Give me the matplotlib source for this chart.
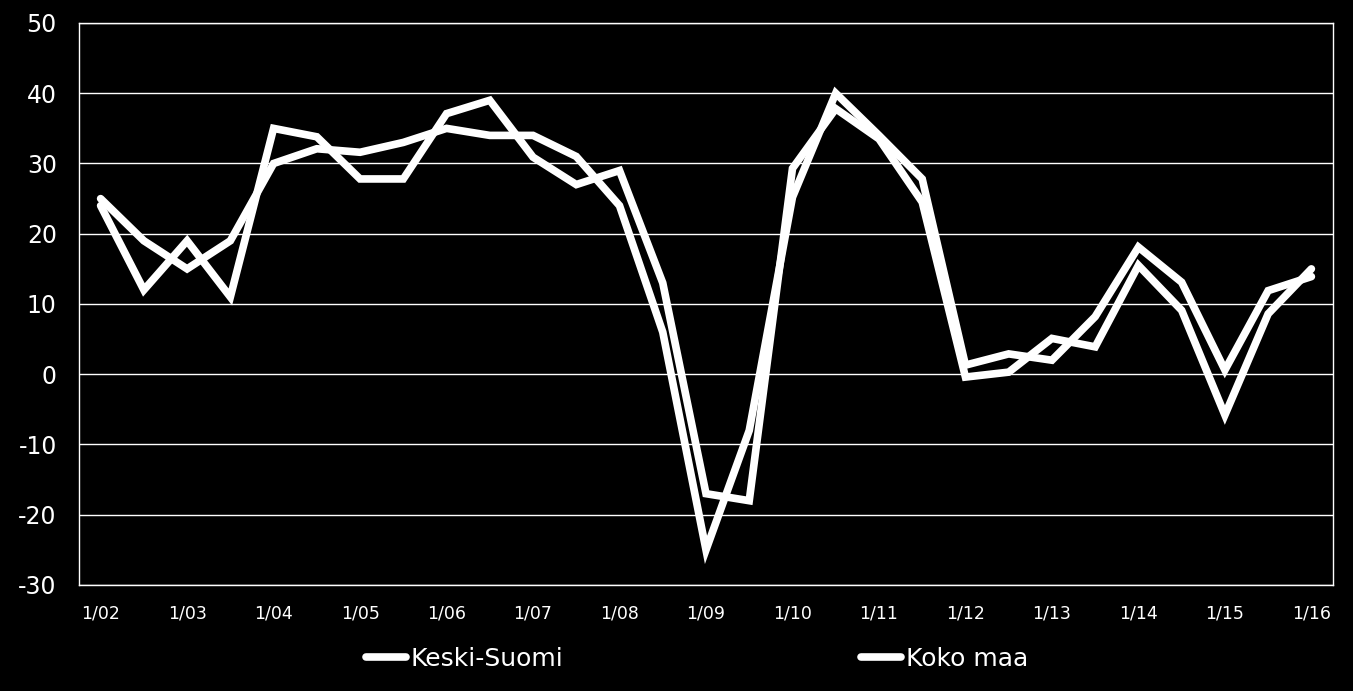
import matplotlib
matplotlib.use("Agg")
import matplotlib.pyplot as plt
from matplotlib import font_manager

# puolivuosittaiset havainnot 1/02 ... 1/16
periods = [f"{m}/{y:02d}" for y in range(2, 17) for m in (1, 7)][:29]
year_labels = [f"1/{y:02d}" for y in range(2, 17)]

keski_suomi = [24, 12, 19, 11, 35, 33.8, 27.8, 27.8, 37.1, 39, 30.9, 27, 29, 13,
               -17, -18, 29.3, 37.8, 33.5, 24.5, -0.4, 0.3, 5.1, 3.9, 15.5, 9.1,
               -5.8, 8.6, 15.0]
koko_maa = [25, 19, 15, 19, 30, 32.1, 31.6, 33, 35, 34, 34, 31, 24, 6,
            -25, -8, 25.2, 40, 34, 27.8, 1.3, 2.9, 2.0, 8.2, 18.1, 13.1,
            0.6, 11.9, 13.9]

names = {f.name for f in font_manager.fontManager.ttflist}
legend_font = "Liberation Sans Narrow" if "Liberation Sans Narrow" in names else "DejaVu Sans"
legend_size = 22 if legend_font != "DejaVu Sans" else 18

fig = plt.figure(figsize=(13.53, 6.91), dpi=100, facecolor="black")
ax = fig.add_axes([79 / 1353, 1 - 585 / 691, (1333 - 79) / 1353, (585 - 23) / 691])
ax.set_facecolor("black")

x = list(range(len(periods)))
ax.plot(x, keski_suomi, color="white", lw=5.5, solid_capstyle="round",
        solid_joinstyle="miter", label="Keski-Suomi", zorder=3)
ax.plot(x, koko_maa, color="white", lw=5.5, solid_capstyle="round",
        solid_joinstyle="miter", label="Koko maa", zorder=3)

ax.set_xlim(-0.5, len(periods) - 0.5)
ax.set_ylim(-30, 50)
ax.set_yticks(range(-30, 51, 10))
ax.set_yticklabels([str(v) for v in range(-30, 51, 10)], fontsize=17, color="white")
ax.set_xticks(x[::2])
ax.set_xticklabels(year_labels, fontsize=12.5, color="white")
ax.tick_params(axis="both", length=0)
ax.tick_params(axis="y", pad=16)
ax.tick_params(axis="x", pad=14)
ax.yaxis.grid(True, color="white", lw=1)
ax.set_axisbelow(True)
for s in ax.spines.values():
    s.set_color("white")
    s.set_linewidth(1)

leg = fig.legend(loc="center", bbox_to_anchor=(0.515, 0.047), ncol=2, frameon=False,
                 handlelength=1.6, handletextpad=0.2, columnspacing=11.9,
                 prop={"family": legend_font, "size": legend_size})
for t in leg.get_texts():
    t.set_color("white")

fig.savefig("out.png", dpi=100, facecolor="black")
